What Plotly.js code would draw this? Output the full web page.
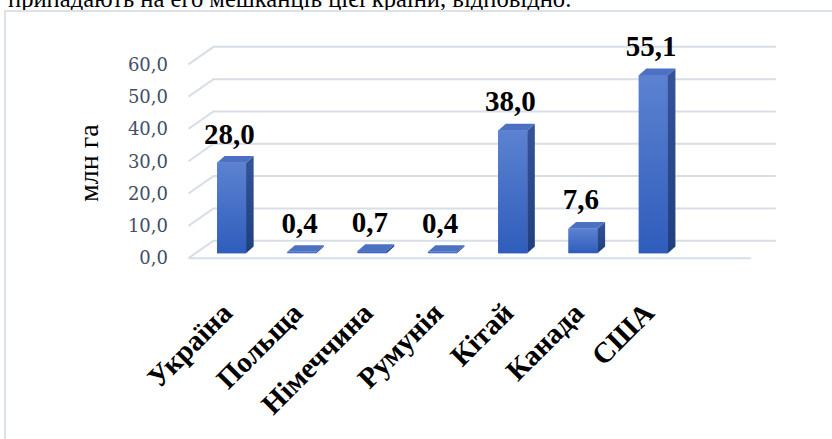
<!DOCTYPE html>
<html>
<head>
<meta charset="utf-8">
<script src="https://cdn.plot.ly/plotly-3.0.1.min.js"></script>
<style>
  html, body { margin: 0; padding: 0; background: #ffffff; overflow: hidden; }
  #page { position: relative; width: 832px; height: 439px; overflow: hidden; }
  #caption {
    position: absolute; left: 8px; top: -13px; white-space: nowrap;
    font-family: "Liberation Serif", "Times New Roman", serif; font-size: 24.6px;
    line-height: 24.6px; color: #000;
  }
  #frame {
    position: absolute; left: 4px; top: 10px; width: 900px; height: 500px;
    border: 2px solid #dde2ea; box-sizing: border-box; pointer-events: none;
  }
  #chart { position: absolute; left: 0; top: 0; width: 832px; height: 439px; }
</style>
</head>
<body>
<div id="page">
  <div id="caption">припадають на его мешканців цієї країни, відповідно.</div>
  <div id="frame"></div>
  <div id="chart"></div>
</div>
<script>
// Країни та площа земель, млн га
const categories = ['Україна', 'Польща', 'Німеччина', 'Румунія', 'Кітай', 'Канада', 'США'];
const values = [28.0, 0.4, 0.7, 0.4, 38.0, 7.6, 55.1];
const yTickVals = [0, 10, 20, 30, 40, 50, 60];
const yTickText = ['0,0', '10,0', '20,0', '30,0', '40,0', '50,0', '60,0'];
const yTitle = 'млн га';

// pseudo-3D geometry (axis units)
const SLOTS = categories.length + 1;
const WALL_DX = 0.355, WALL_DY = 5.4;      // depth of the back wall
const BAR_W = 0.413, BAR_SHIFT = 0.112;     // front face width / shift into depth
const BAR_BASE = 1.55;                      // columns stand in the middle of the floor
const BAR_DX = 0.108, BAR_DY = 2.07;        // depth of each column

const FRONT = '#4169c5', TOP = '#4c71c2', SIDE = '#2b4b8e';
const FRONT_SCALE = [[0, '#2f5dbc'], [1, '#5c82d1']];
const SIDE_SCALE = [[0, '#203f7e'], [1, '#35549a']];
const GRID = '#d8dee8';
const SERIF = 'Liberation Serif, Times New Roman, serif';
const TICK_SERIF = 'DejaVu Serif, serif';

const fmt = v => v.toFixed(1).replace('.', ',');

// back-wall gridlines with their diagonal on the left wall
const xL = -0.5, xR = SLOTS - 0.5;
const shapes = yTickVals.map(v => ({
  type: 'path', layer: 'below', xref: 'x', yref: 'y',
  path: `M ${xL},${v} L ${xL + WALL_DX},${v + WALL_DY} L ${xR + WALL_DX},${v + WALL_DY}`,
  line: { color: GRID, width: 2 }
}));
shapes.push({
  type: 'line', layer: 'below', xref: 'x', yref: 'y',
  x0: xL, y0: 0, x1: xR, y1: 0, line: { color: GRID, width: 2 }
});

const idx = categories.map((_, i) => i);

const traces = [{
  type: 'bar', x: idx, y: values, base: BAR_BASE,
  width: BAR_W, offset: BAR_SHIFT - BAR_W / 2,
  marker: { color: FRONT, line: { width: 0 } },
  hoverinfo: 'skip'
}];

// shading of the front, side and top faces of every column
values.forEach((v, i) => {
  const x0 = i + BAR_SHIFT - BAR_W / 2, x1 = x0 + BAR_W, top = BAR_BASE + v;
  traces.push({
    type: 'scatter', mode: 'lines', fill: 'toself',
    fillgradient: { type: 'vertical', colorscale: FRONT_SCALE },
    line: { width: 0, color: FRONT }, hoverinfo: 'skip',
    x: [x0, x1, x1, x0, x0],
    y: [BAR_BASE, BAR_BASE, top, top, BAR_BASE]
  });
  traces.push({
    type: 'scatter', mode: 'lines', fill: 'toself',
    fillgradient: { type: 'vertical', colorscale: SIDE_SCALE },
    line: { width: 0, color: SIDE }, hoverinfo: 'skip',
    x: [x1, x1, x1 + BAR_DX, x1 + BAR_DX, x1],
    y: [BAR_BASE, top, top + BAR_DY, BAR_BASE + BAR_DY, BAR_BASE]
  });
  traces.push({
    type: 'scatter', mode: 'lines', fill: 'toself', fillcolor: TOP,
    line: { width: 0, color: TOP }, hoverinfo: 'skip',
    x: [x0, x1, x1 + BAR_DX, x0 + BAR_DX, x0],
    y: [top, top, top + BAR_DY, top + BAR_DY, top]
  });
});

// value labels
traces.push({
  type: 'scatter', mode: 'text', cliponaxis: false, hoverinfo: 'skip',
  x: idx.map(i => i + 0.08),
  y: values.map(v => BAR_BASE + v + BAR_DY + 1.6),
  text: values.map(fmt), textposition: 'top center',
  textfont: { family: SERIF, size: 29, color: '#000', weight: 'bold' }
});

const layout = {
  width: 832, height: 439,
  margin: { l: 185, r: 53, t: 32, b: 176 },
  paper_bgcolor: 'rgba(0,0,0,0)', plot_bgcolor: 'rgba(0,0,0,0)',
  showlegend: false,
  shapes: shapes,
  xaxis: {
    range: [-0.55, 7.9], showgrid: false, zeroline: false, showline: false,
    tickvals: idx, ticktext: categories, ticks: '', tickangle: -45,
    ticklabelstandoff: 26,
    tickfont: { family: SERIF, size: 29, color: '#000', weight: 'bold' }
  },
  yaxis: {
    range: [-1.5, 70], showgrid: false, zeroline: false, showline: false,
    tickvals: yTickVals, ticktext: yTickText, ticks: '',
    ticklabelstandoff: 16,
    tickfont: { family: TICK_SERIF, size: 18, color: '#3f4f68' }
  },
  annotations: [{
    xref: 'paper', yref: 'paper', x: (88 - 185) / 594, y: (263 - 163) / 231,
    xanchor: 'center', yanchor: 'middle',
    text: yTitle, textangle: -90, showarrow: false,
    font: { family: SERIF, size: 28, color: '#000' }
  }]
};

Plotly.newPlot('chart', traces, layout, { staticPlot: true, displayModeBar: false });
</script>
</body>
</html>
